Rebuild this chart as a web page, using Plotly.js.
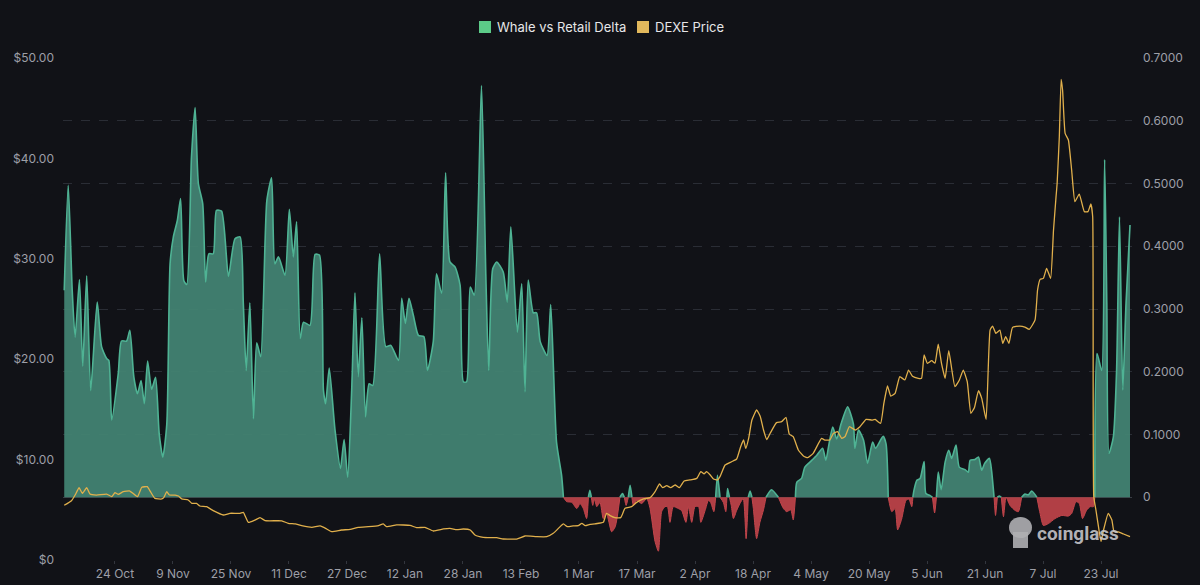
<!DOCTYPE html>
<html>
<head>
<meta charset="utf-8">
<script src="https://cdn.plot.ly/plotly-3.0.1.min.js"></script>
<style>
  html, body { margin: 0; padding: 0; background: #111217; }
  #chart { width: 1200px; height: 585px; }
</style>
</head>
<body>
<div id="chart"></div>
<script>
// ---- Data (day offsets from 2024-10-10) ----
const seriesNames = ["Whale vs Retail Delta", "DEXE Price"];

const deltaDays = [
  0.0,1.1,2.2,3.0,4.2,5.1,6.2,7.3,9.1,10.3,11.7,12.3,13.1,14.9,15.8,17.2,18.1,19.2,20.2,21.2,22.1,23.0,24.1,25.2,26.2,27.2,28.3,29.2,30.1,31.2,32.1,33.0,33.8,35.1,36.1,37.0,38.2,39.0,39.9,41.1,42.0,43.4,45.3,47.1,48.5,
  49.4,50.2,51.2,52.2,53.1,54.2,55.9,57.2,58.1,59.1,60.9,62.1,63.2,64.1,65.1,66.0,67.8,69.2,70.4,71.5,72.1,73.1,74.7,76.2,77.2,78.2,79.3,80.2,81.1,82.1,83.1,84.1,85.1,87.0,88.7,90.1,92.2,93.1,94.1,95.1,
  96.3,97.7,99.2,100.2,101.8,102.7,104.1,105.2,106.4,107.8,109.2,110.1,111.0,112.0,113.1,115.1,116.3,117.1,118.2,119.3,121.1,122.2,123.2,125.0,126.2,127.1,128.0,129.4,130.3,131.3,133.2,134.2,135.8,137.2,137.7,
  138.6,140.0,141.4,142.3,143.2,144.1,144.6,145.0,145.4,145.8,146.3,146.9,147.8,148.7,149.6,151.0,152.0,153.3,154.0,154.5,155.0,155.6,156.1,156.6,157.0,157.9,159.3,160.7,161.6,163.0,163.9,164.8,165.7,166.4,167.1,168.0,169.4,170.3,171.5,172.2,173.1,174.0,175.0,175.6,176.8,177.7,178.3,179.2,179.7,180.2,180.9,181.8,182.5,182.8,183.0,183.5,184.0,184.6,185.5,186.4,187.3,188.1,188.7,189.2,189.7,190.1,191.0,191.9,192.9,193.6,195.1,197.0,198.4,199.3,200.4,201.1,
  201.7,202.1,203.4,204.3,205.7,207.6,209.2,210.1,211.0,212.0,213.1,214.3,216.1,217.7,218.1,219.1,220.5,221.6,223.0,223.8,225.9,226.7,227.3,228.3,229.2,229.9,231.0,232.2,233.0,233.8,234.1,234.4,235.2,236.1,237.2,237.7,238.8,239.5,240.1,240.6,241.1,241.9,
  243.0,244.0,244.8,246.0,246.9,248.5,249.4,249.9,251.2,252.2,253.1,253.9,255.2,255.8,256.5,256.9,257.4,258.0,258.5,259.1,259.8,260.9,262.3,263.2,264.1,265.0,266.0,266.9,268.3,269.2,270.1,271.5,273.3,275.2,277.0,277.9,279.1,280.0,280.9,282.0,283.0,283.9,284.3,284.9,286.2,287.0,287.6,288.2,289.4,290.3,291.1,292.0,292.9,294.0
];
const deltaValues = [
  0.330,0.497,0.330,0.255,0.347,0.209,0.353,0.170,0.311,0.240,0.221,0.218,0.123,0.197,0.249,0.249,0.266,0.192,0.165,0.186,0.149,0.217,0.172,0.191,0.101,0.064,0.117,0.372,0.415,0.441,0.476,0.345,0.339,0.542,0.621,0.500,0.468,0.343,0.388,0.388,0.457,0.456,0.352,0.412,0.415,
  0.309,0.202,0.310,0.125,0.246,0.224,0.473,0.509,0.372,0.383,0.354,0.459,0.383,0.439,0.253,0.279,0.274,0.387,0.386,0.171,0.149,0.206,0.107,0.046,0.092,0.032,0.171,0.326,0.192,0.286,0.128,0.181,0.178,0.388,0.240,0.242,0.218,0.317,0.277,0.317,
  0.290,0.258,0.256,0.202,0.248,0.356,0.325,0.517,0.375,0.367,0.338,0.184,0.184,0.335,0.322,0.656,0.354,0.202,0.364,0.375,0.359,0.311,0.431,0.263,0.340,0.168,0.346,0.294,0.294,0.248,0.226,0.307,0.088,0.035,0.000,
  -0.007,-0.008,-0.018,-0.010,-0.018,-0.034,0.000,0.011,0.000,-0.013,-0.003,-0.015,-0.008,-0.034,-0.026,-0.055,-0.047,0.000,0.006,0.000,-0.013,0.000,0.019,0.000,-0.013,-0.005,-0.010,-0.002,-0.018,-0.071,-0.086,-0.023,-0.015,-0.015,-0.040,-0.015,-0.018,-0.021,-0.040,-0.015,-0.040,-0.015,-0.015,-0.040,-0.021,-0.005,-0.008,-0.023,0.000,0.035,0.000,-0.008,-0.023,0.000,0.014,0.000,-0.013,-0.034,-0.021,-0.010,-0.002,-0.066,0.000,0.010,0.000,-0.018,-0.066,-0.040,-0.020,0.000,0.012,0.000,-0.018,-0.023,-0.020,-0.036,
  0.000,0.024,0.030,0.048,0.056,0.067,0.078,0.059,0.086,0.112,0.093,0.117,0.144,0.117,0.078,0.107,0.091,0.054,0.088,0.078,0.097,0.085,0.000,-0.023,-0.018,-0.052,-0.035,-0.005,-0.003,-0.015,0.000,0.011,0.027,0.030,0.057,0.006,0.003,0.000,-0.025,0.000,0.040,0.012,
  0.056,0.075,0.062,0.083,0.048,0.044,0.040,0.059,0.060,0.064,0.043,0.054,0.062,0.043,0.000,-0.029,0.000,0.002,0.000,-0.031,0.000,-0.013,-0.021,-0.023,0.000,0.005,0.004,0.010,0.000,-0.026,-0.045,-0.042,-0.034,-0.029,-0.030,-0.026,-0.007,-0.010,-0.034,-0.021,-0.015,-0.015,0.000,0.229,0.202,0.538,0.309,0.070,0.096,0.202,0.447,0.171,0.309,0.434
];

const priceDays = [
  0.0,2.0,3.0,4.1,5.0,6.2,7.1,8.9,11.7,13.1,14.0,14.9,16.3,18.1,20.2,21.4,22.9,23.8,25.0,26.9,27.5,28.3,29.0,30.6,31.5,32.4,34.2,35.2,36.5,37.4,39.3,41.1,43.9,45.7,48.5,49.4,50.8,52.6,54.0,55.4,60.0,61.8,63.7,65.5,68.3,70.6,72.4,73.8,76.5,78.9,81.1,83.9,86.7,88.0,88.9,91.7,95.4,97.2,99.5,101.8,104.6,106.4,108.3,110.1,112.0,113.3,115.6,119.3,121.1,124.8,127.1,130.3,133.1,134.9,136.6,137.7,138.8,140.4,141.8,142.8,143.7,145.0,146.4,148.7,149.6,150.6,151.9,153.5,154.7,156.5,157.9,159.8,161.6,163.0,164.2,165.1,166.2,167.3,168.5,169.7,171.0,172.6,174.5,175.6,176.5,177.2,178.2,179.1,180.2,180.9,182.3,184.1,185.5,186.6,187.4,188.0,188.8,189.7,191.0,192.0,192.9,193.8,194.7,196.5,197.9,199.1,200.0,201.1,202.5,203.9,205.1,206.6,208.9,209.8,211.2,212.2,213.3,214.5,215.4,216.6,218.2,219.5,221.2,222.8,223.7,225.2,226.1,227.1,228.0,229.2,230.5,231.9,232.9,234.0,235.6,236.5,237.2,238.1,239.3,240.2,241.1,242.0,243.0,244.0,245.7,246.9,248.0,249.1,250.1,251.1,252.2,253.1,254.3,255.4,256.1,257.0,258.1,258.9,259.7,260.6,261.6,263.6,265.0,266.2,267.8,268.5,269.2,270.1,271.0,272.1,272.9,273.6,273.9,274.5,275.0,275.4,276.1,277.0,277.9,278.8,280.0,281.4,282.4,283.2,283.7,284.0,284.6,285.3,286.0,286.7,288.0,289.0,289.6,290.8,292.2,294.0
];
const priceValues = [
  5.45,5.90,6.47,7.20,6.64,7.20,6.57,6.47,6.57,6.31,6.70,6.54,6.80,6.87,6.31,7.24,7.30,6.80,6.14,6.08,6.24,6.80,6.47,6.47,6.37,6.08,5.98,5.64,5.64,5.38,5.31,4.91,4.48,4.65,4.65,4.75,3.75,3.98,4.22,3.92,3.90,3.65,3.59,3.42,3.25,3.39,3.09,2.82,2.99,3.05,3.25,3.32,3.42,3.59,3.32,3.49,3.45,3.22,3.25,2.89,3.09,3.15,3.02,3.09,2.99,2.49,2.26,2.22,2.09,2.09,2.39,2.32,2.32,2.66,3.25,3.59,3.32,3.39,3.42,3.65,3.42,3.55,3.60,3.75,4.65,4.42,4.22,4.22,5.15,5.31,5.74,6.08,6.21,6.81,7.57,7.20,7.40,7.20,7.47,7.20,7.87,7.97,8.13,8.80,8.57,8.80,8.47,8.07,7.97,8.30,9.46,9.79,10.06,11.29,11.95,11.12,12.12,13.94,14.94,14.30,12.95,12.00,12.60,13.68,13.78,14.21,12.55,12.28,10.96,10.36,10.19,10.62,12.12,11.95,11.95,12.62,12.78,12.12,12.30,13.28,12.95,13.28,14.01,13.94,14.00,13.61,15.60,17.33,16.33,16.60,18.26,17.93,18.92,18.30,18.10,18.10,20.42,19.59,19.85,19.60,21.51,19.59,18.09,20.85,17.26,17.90,18.92,17.76,14.61,15.20,16.87,16.10,14.01,22.90,23.30,22.58,22.90,21.58,22.24,21.58,23.17,23.30,23.20,22.97,23.90,26.90,27.95,28.05,29.05,28.05,32.87,36.19,37.52,42.16,47.88,46.80,42.50,41.83,38.84,35.69,36.45,34.70,34.70,35.46,34.20,6.30,4.98,3.32,1.83,2.99,4.65,3.98,2.82,2.80,2.59,2.32
];

const priceTickVals = [0, 10, 20, 30, 40, 50];
const priceTickText = ["$0", "$10.00", "$20.00", "$30.00", "$40.00", "$50.00"];
const deltaTickVals = [-0.1, 0, 0.1, 0.2, 0.3, 0.4, 0.5, 0.6, 0.7];
const deltaTickText = ["", "0", "0.1000", "0.2000", "0.3000", "0.4000", "0.5000", "0.6000", "0.7000"];

// ---- Build traces ----
const DAY = 86400000;
const startMs = Date.UTC(2024, 9, 10);
const toX = d => startMs + d * DAY;

const deltaX = deltaDays.map(toX);
const priceX = priceDays.map(toX);
const deltaPos = deltaValues.map(v => (v >= 0 ? v : null));
const deltaNeg = deltaValues.map(v => (v <= 0 ? v : null));

const GREEN_LINE = "#4fb394";
const GREEN_FILL = "rgba(66,131,114,0.95)";
const RED_LINE = "#c2454b";
const RED_FILL = "rgba(186,66,72,0.95)";
const YELLOW = "#e1b04c";
const LEGEND_GREEN = "#5ccb88";
const LEGEND_YELLOW = "#e2b85c";

const traces = [
  {
    name: seriesNames[0],
    x: deltaX, y: deltaPos, type: "scatter", mode: "lines",
    line: { color: GREEN_LINE, width: 1.6, shape: "spline", smoothing: 0.6 },
    fill: "tozeroy", fillcolor: GREEN_FILL, connectgaps: false,
    yaxis: "y", hoverinfo: "skip"
  },
  {
    name: seriesNames[0] + " (negative)",
    x: deltaX, y: deltaNeg, type: "scatter", mode: "lines",
    line: { color: RED_LINE, width: 1, shape: "spline", smoothing: 0.6 },
    fill: "tozeroy", fillcolor: RED_FILL, connectgaps: false,
    yaxis: "y", hoverinfo: "skip"
  },
  {
    name: seriesNames[1],
    x: priceX, y: priceValues, type: "scatter", mode: "lines",
    line: { color: YELLOW, width: 1.3, shape: "spline", smoothing: 0.4 },
    yaxis: "y2", hoverinfo: "skip"
  }
];

const fontFamily = "Inter, 'Noto Sans', sans-serif";
const tickFont = { family: fontFamily, size: 12, color: "#9d9fa7" };

// pixel -> paper helpers for legend / watermark placement
const PL = 63, PW = 1069, PB = 560, PH = 502;
const px = v => (v - PL) / PW;
const py = v => (PB - v) / PH;

const layout = {
  width: 1200, height: 585,
  paper_bgcolor: "#111217", plot_bgcolor: "#111217",
  margin: { l: 63, r: 68, t: 58, b: 25 },
  showlegend: false,
  xaxis: {
    type: "date",
    range: [toX(-0.34), toX(294.55)],
    tick0: "2024-10-24", dtick: 16 * DAY, tickformat: "%-d %b",
    showgrid: false, zeroline: false, showline: false,
    ticks: "outside", ticklen: 3, tickcolor: "#33363e",
    tickfont: tickFont
  },
  yaxis: {
    side: "right", range: [-0.1, 0.7],
    tickmode: "array", tickvals: deltaTickVals, ticktext: deltaTickText,
    showgrid: true, gridcolor: "#2a2d35", griddash: "dash", gridwidth: 1,
    zeroline: true, zerolinecolor: "#3a3d45", zerolinewidth: 1,
    showline: false, ticks: "", tickfont: tickFont, ticklabelstandoff: 10
  },
  yaxis2: {
    side: "left", overlaying: "y", range: [0, 50],
    tickmode: "array", tickvals: priceTickVals, ticktext: priceTickText,
    showgrid: false, zeroline: false, showline: false, ticks: "",
    tickfont: tickFont, ticklabelstandoff: 8
  },
  shapes: [
    // legend swatches
    { type: "rect", xref: "paper", yref: "paper", x0: px(479), x1: px(491), y0: py(33), y1: py(21),
      fillcolor: LEGEND_GREEN, line: { width: 0 } },
    { type: "rect", xref: "paper", yref: "paper", x0: px(637), x1: px(649), y0: py(33), y1: py(21),
      fillcolor: LEGEND_YELLOW, line: { width: 0 } },
    // watermark logo (approximate)
    { type: "circle", xref: "paper", yref: "paper", x0: px(1009), x1: px(1032), y0: py(538), y1: py(517),
      fillcolor: "rgba(175,175,178,0.9)", line: { width: 0 } },
    { type: "rect", xref: "paper", yref: "paper", x0: px(1013), x1: px(1028), y0: py(548), y1: py(532),
      fillcolor: "rgba(175,175,178,0.9)", line: { width: 0 } }
  ],
  annotations: [
    { xref: "paper", yref: "paper", x: px(495), y: py(27), xanchor: "left", yanchor: "middle",
      text: seriesNames[0], showarrow: false,
      font: { family: fontFamily, size: 13, color: "#e6e6e8" } },
    { xref: "paper", yref: "paper", x: px(653), y: py(27), xanchor: "left", yanchor: "middle",
      text: seriesNames[1], showarrow: false,
      font: { family: fontFamily, size: 13, color: "#e6e6e8" } },
    { xref: "paper", yref: "paper", x: px(1121), y: py(533), xanchor: "right", yanchor: "middle",
      text: "<b>coinglass</b>", showarrow: false,
      font: { family: "Roboto, 'Noto Sans', sans-serif", size: 19, color: "rgba(200,200,204,0.9)" } }
  ]
};

Plotly.newPlot("chart", traces, layout, { displayModeBar: false, staticPlot: true });
</script>
</body>
</html>
